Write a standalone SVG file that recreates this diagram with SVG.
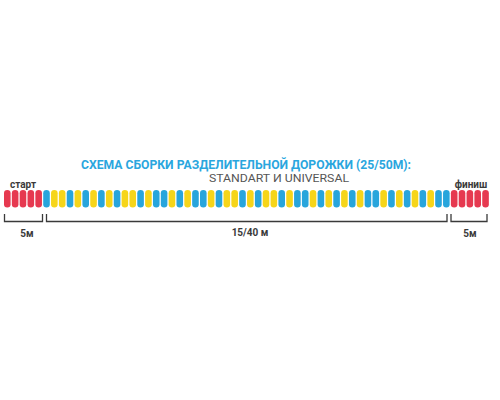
<svg xmlns="http://www.w3.org/2000/svg" xmlns:xlink="http://www.w3.org/1999/xlink" width="500" height="400" viewBox="0 0 500 400">
<defs>
<style>
.r{fill:#e63950}.b{fill:#28a5dc}.y{fill:#f6d51a}
.br{fill:none;stroke:#3a3a3a;stroke-width:1.3}
.lbl{font-family:Roboto,"Liberation Sans",sans-serif;font-weight:bold;fill:#3a3a3a;font-size:10px}
.title{font-family:Roboto,"Liberation Sans",sans-serif;font-weight:bold;fill:#2aa6de;font-size:12px}
.sub{font-family:Roboto,"Liberation Sans",sans-serif;fill:#555;font-size:11px}
</style>
<rect id="bd" x="0" y="190" width="6.6" height="17.5" rx="3.3"/>
</defs>
<rect width="500" height="400" fill="#fff"/>
<g id="title">
<text class="title" x="246" y="169" text-anchor="middle" textLength="330" lengthAdjust="spacingAndGlyphs">СХЕМА СБОРКИ РАЗДЕЛИТЕЛЬНОЙ ДОРОЖКИ (25/50М):</text>
<text class="sub" x="279" y="182" text-anchor="middle" textLength="140" lengthAdjust="spacingAndGlyphs">STANDART И UNIVERSAL</text>
</g>
<g id="start">
<text class="lbl" x="23" y="188" text-anchor="middle">старт</text>
<use href="#bd" class="r" x="4"/><use href="#bd" class="r" x="11.84"/><use href="#bd" class="r" x="19.68"/><use href="#bd" class="r" x="27.52"/><use href="#bd" class="r" x="35.36"/>
</g>
<g id="middle">
<use href="#bd" class="b" x="43.2"/><use href="#bd" class="y" x="51.04"/><use href="#bd" class="y" x="58.88"/><use href="#bd" class="b" x="66.72"/><use href="#bd" class="y" x="74.56"/><use href="#bd" class="b" x="82.4"/><use href="#bd" class="y" x="90.24"/><use href="#bd" class="b" x="98.08"/><use href="#bd" class="y" x="105.92"/><use href="#bd" class="b" x="113.76"/><use href="#bd" class="y" x="121.6"/><use href="#bd" class="y" x="129.44"/><use href="#bd" class="b" x="137.28"/><use href="#bd" class="y" x="145.12"/><use href="#bd" class="b" x="152.96"/><use href="#bd" class="b" x="160.8"/><use href="#bd" class="y" x="168.64"/><use href="#bd" class="b" x="176.48"/><use href="#bd" class="y" x="184.32"/><use href="#bd" class="b" x="192.16"/><use href="#bd" class="b" x="200"/><use href="#bd" class="y" x="207.84"/><use href="#bd" class="b" x="215.68"/><use href="#bd" class="y" x="223.52"/><use href="#bd" class="y" x="231.36"/><use href="#bd" class="b" x="239.2"/><use href="#bd" class="y" x="247.04"/><use href="#bd" class="b" x="254.88"/><use href="#bd" class="y" x="262.72"/><use href="#bd" class="y" x="270.56"/><use href="#bd" class="b" x="278.4"/><use href="#bd" class="y" x="286.24"/><use href="#bd" class="b" x="294.08"/><use href="#bd" class="b" x="301.92"/><use href="#bd" class="y" x="309.76"/><use href="#bd" class="b" x="317.6"/><use href="#bd" class="y" x="325.44"/><use href="#bd" class="b" x="333.28"/><use href="#bd" class="y" x="341.12"/><use href="#bd" class="b" x="348.96"/><use href="#bd" class="y" x="356.8"/><use href="#bd" class="b" x="364.64"/><use href="#bd" class="b" x="372.48"/><use href="#bd" class="y" x="380.32"/><use href="#bd" class="b" x="388.16"/><use href="#bd" class="y" x="396"/><use href="#bd" class="b" x="403.84"/><use href="#bd" class="y" x="411.68"/><use href="#bd" class="b" x="419.52"/><use href="#bd" class="y" x="427.36"/><use href="#bd" class="b" x="435.2"/><use href="#bd" class="b" x="443.04"/>
</g>
<g id="finish">
<text class="lbl" x="471" y="188" text-anchor="middle">финиш</text>
<use href="#bd" class="r" x="450.88"/><use href="#bd" class="r" x="458.72"/><use href="#bd" class="r" x="466.56"/><use href="#bd" class="r" x="474.4"/><use href="#bd" class="r" x="482.24"/>
</g>
<g id="connectors">
<path class="br" d="M4.5,214 V221.5 H42.5 V214"/>
<path class="br" d="M46.5,214 V221.5 H447 V214"/>
<path class="br" d="M451,214 V221.5 H487 V214"/>
</g>
<g id="labels">
<text class="lbl" x="27" y="237" text-anchor="middle">5м</text>
<text class="lbl" x="250" y="236" text-anchor="middle">15/40 м</text>
<text class="lbl" x="470" y="237" text-anchor="middle">5м</text>
</g>
</svg>
